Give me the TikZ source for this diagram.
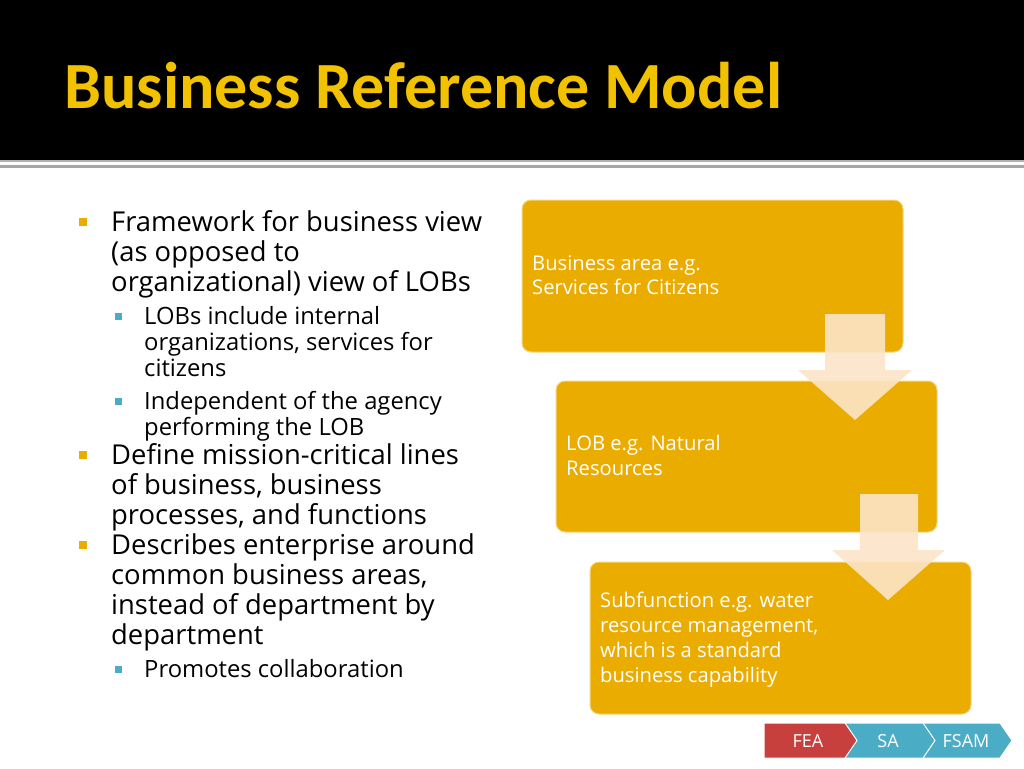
\documentclass[tikz,border=0pt]{standalone}
\usepackage{fontspec}
\setmainfont{Open Sans}
\newfontfamily\ttlfont{Carlito}
\definecolor{ttl}{HTML}{F2C200}
\definecolor{boxc}{HTML}{EBAC00}
\definecolor{arr}{HTML}{FCE4C8}
\definecolor{redc}{HTML}{C8403E}
\definecolor{bluec}{HTML}{4BACC6}
\begin{document}
\begin{tikzpicture}[x=1pt,y=-1pt,
  l1/.style={anchor=base west,font=\fontsize{27.4}{27}\selectfont,inner sep=0},
  l2/.style={anchor=base west,font=\fontsize{23.8}{23}\selectfont,inner sep=0},
  bt/.style={anchor=base west,font=\fontsize{20.2}{20}\selectfont,text=white,inner sep=0},
  box/.style={fill=boxc,draw=boxc!50!white,line width=1pt,rounded corners=9pt},
  ar/.style={fill=arr,fill opacity=0.9},
  chev/.style={draw=white,line width=1pt},
  ct/.style={text=white,font=\fontsize{18}{18}\selectfont}]
\useasboundingbox (0,0) rectangle (1024,768);
\fill[white] (0,0) rectangle (1024,768);
\fill[black] (0,0) rectangle (1024,160);
\fill[gray!60] (0,160) rectangle (1024,162);
\fill[gray!70] (0,165) rectangle (1024,167.5);
\node[anchor=base west,inner sep=0,text=ttl,font=\ttlfont\bfseries\fontsize{66}{66}\selectfont] (title) at (64,108) {Business Reference Model};
% bullets
\foreach \y in {222,455,545} \fill[boxc] (79,\y-4) rectangle (87,\y+4);
\foreach \y in {316,401,669} \fill[bluec] (115,\y-3.5) rectangle (122,\y+3.5);
\node[l1] (a1) at (111,231) {Framework for business view};
\node[l1] (a2) at (111,261) {(as opposed to};
\node[l1] (a3) at (111,291) {organizational) view of LOBs};
\node[l2] (b1) at (144,324) {LOBs include internal};
\node[l2] (b2) at (144,350) {organizations, services for};
\node[l2] (b3) at (144,376) {citizens};
\node[l2] (b4) at (144,409) {Independent of the agency};
\node[l2] (b5) at (144,435) {performing the LOB};
\node[l1] (c1) at (111,464) {Define mission-critical lines};
\node[l1] (c2) at (111,494) {of business, business};
\node[l1] (c3) at (111,524) {processes, and functions};
\node[l1] (d1) at (111,554) {Describes enterprise around};
\node[l1] (d2) at (111,584) {common business areas,};
\node[l1] (d3) at (111,614) {instead of department by};
\node[l1] (d4) at (111,644) {department};
\node[l2] (e1) at (144,677) {Promotes collaboration};
% boxes
\draw[box] (522,200) rectangle (903,352);
\draw[box] (556,381) rectangle (937,532);
\draw[box] (590,562) rectangle (971,714);
\fill[ar] (825,314) -- (885,314) -- (885,370) -- (912,370) -- (855,420) -- (798,370) -- (825,370) -- cycle;
\fill[ar] (860,494) -- (918,494) -- (918,550) -- (945,550) -- (888,600) -- (832,550) -- (860,550) -- cycle;
\node[bt] (t1) at (532,270) {Business area e.g.};
\node[bt] (t2) at (532,294) {Services for Citizens};
\node[bt] (t3) at (566,450) {LOB e.g. Natural};
\node[bt] (t4) at (566,475) {Resources};
\node[bt] (t5) at (600,607) {Subfunction e.g. water};
\node[bt] (t6) at (600,632) {resource management,};
\node[bt] (t7) at (600,657) {which is a standard};
\node[bt] (t8) at (600,682) {business capability};
% chevrons
\draw[chev,fill=bluec] (917,723) -- (1000,723) -- (1012,740.5) -- (1000,758) -- (917,758) -- (929,740.5) -- cycle;
\draw[chev,fill=bluec] (840,723) -- (923,723) -- (935,740.5) -- (923,758) -- (840,758) -- (852,740.5) -- cycle;
\draw[chev,fill=redc] (764,723) -- (845,723) -- (857,740.5) -- (845,758) -- (764,758) -- cycle;
\node[ct] (f1) at (808,741) {FEA};
\node[ct] (f2) at (888,741) {SA};
\node[ct] (f3) at (966,741) {FSAM};
\end{tikzpicture}
\end{document}
